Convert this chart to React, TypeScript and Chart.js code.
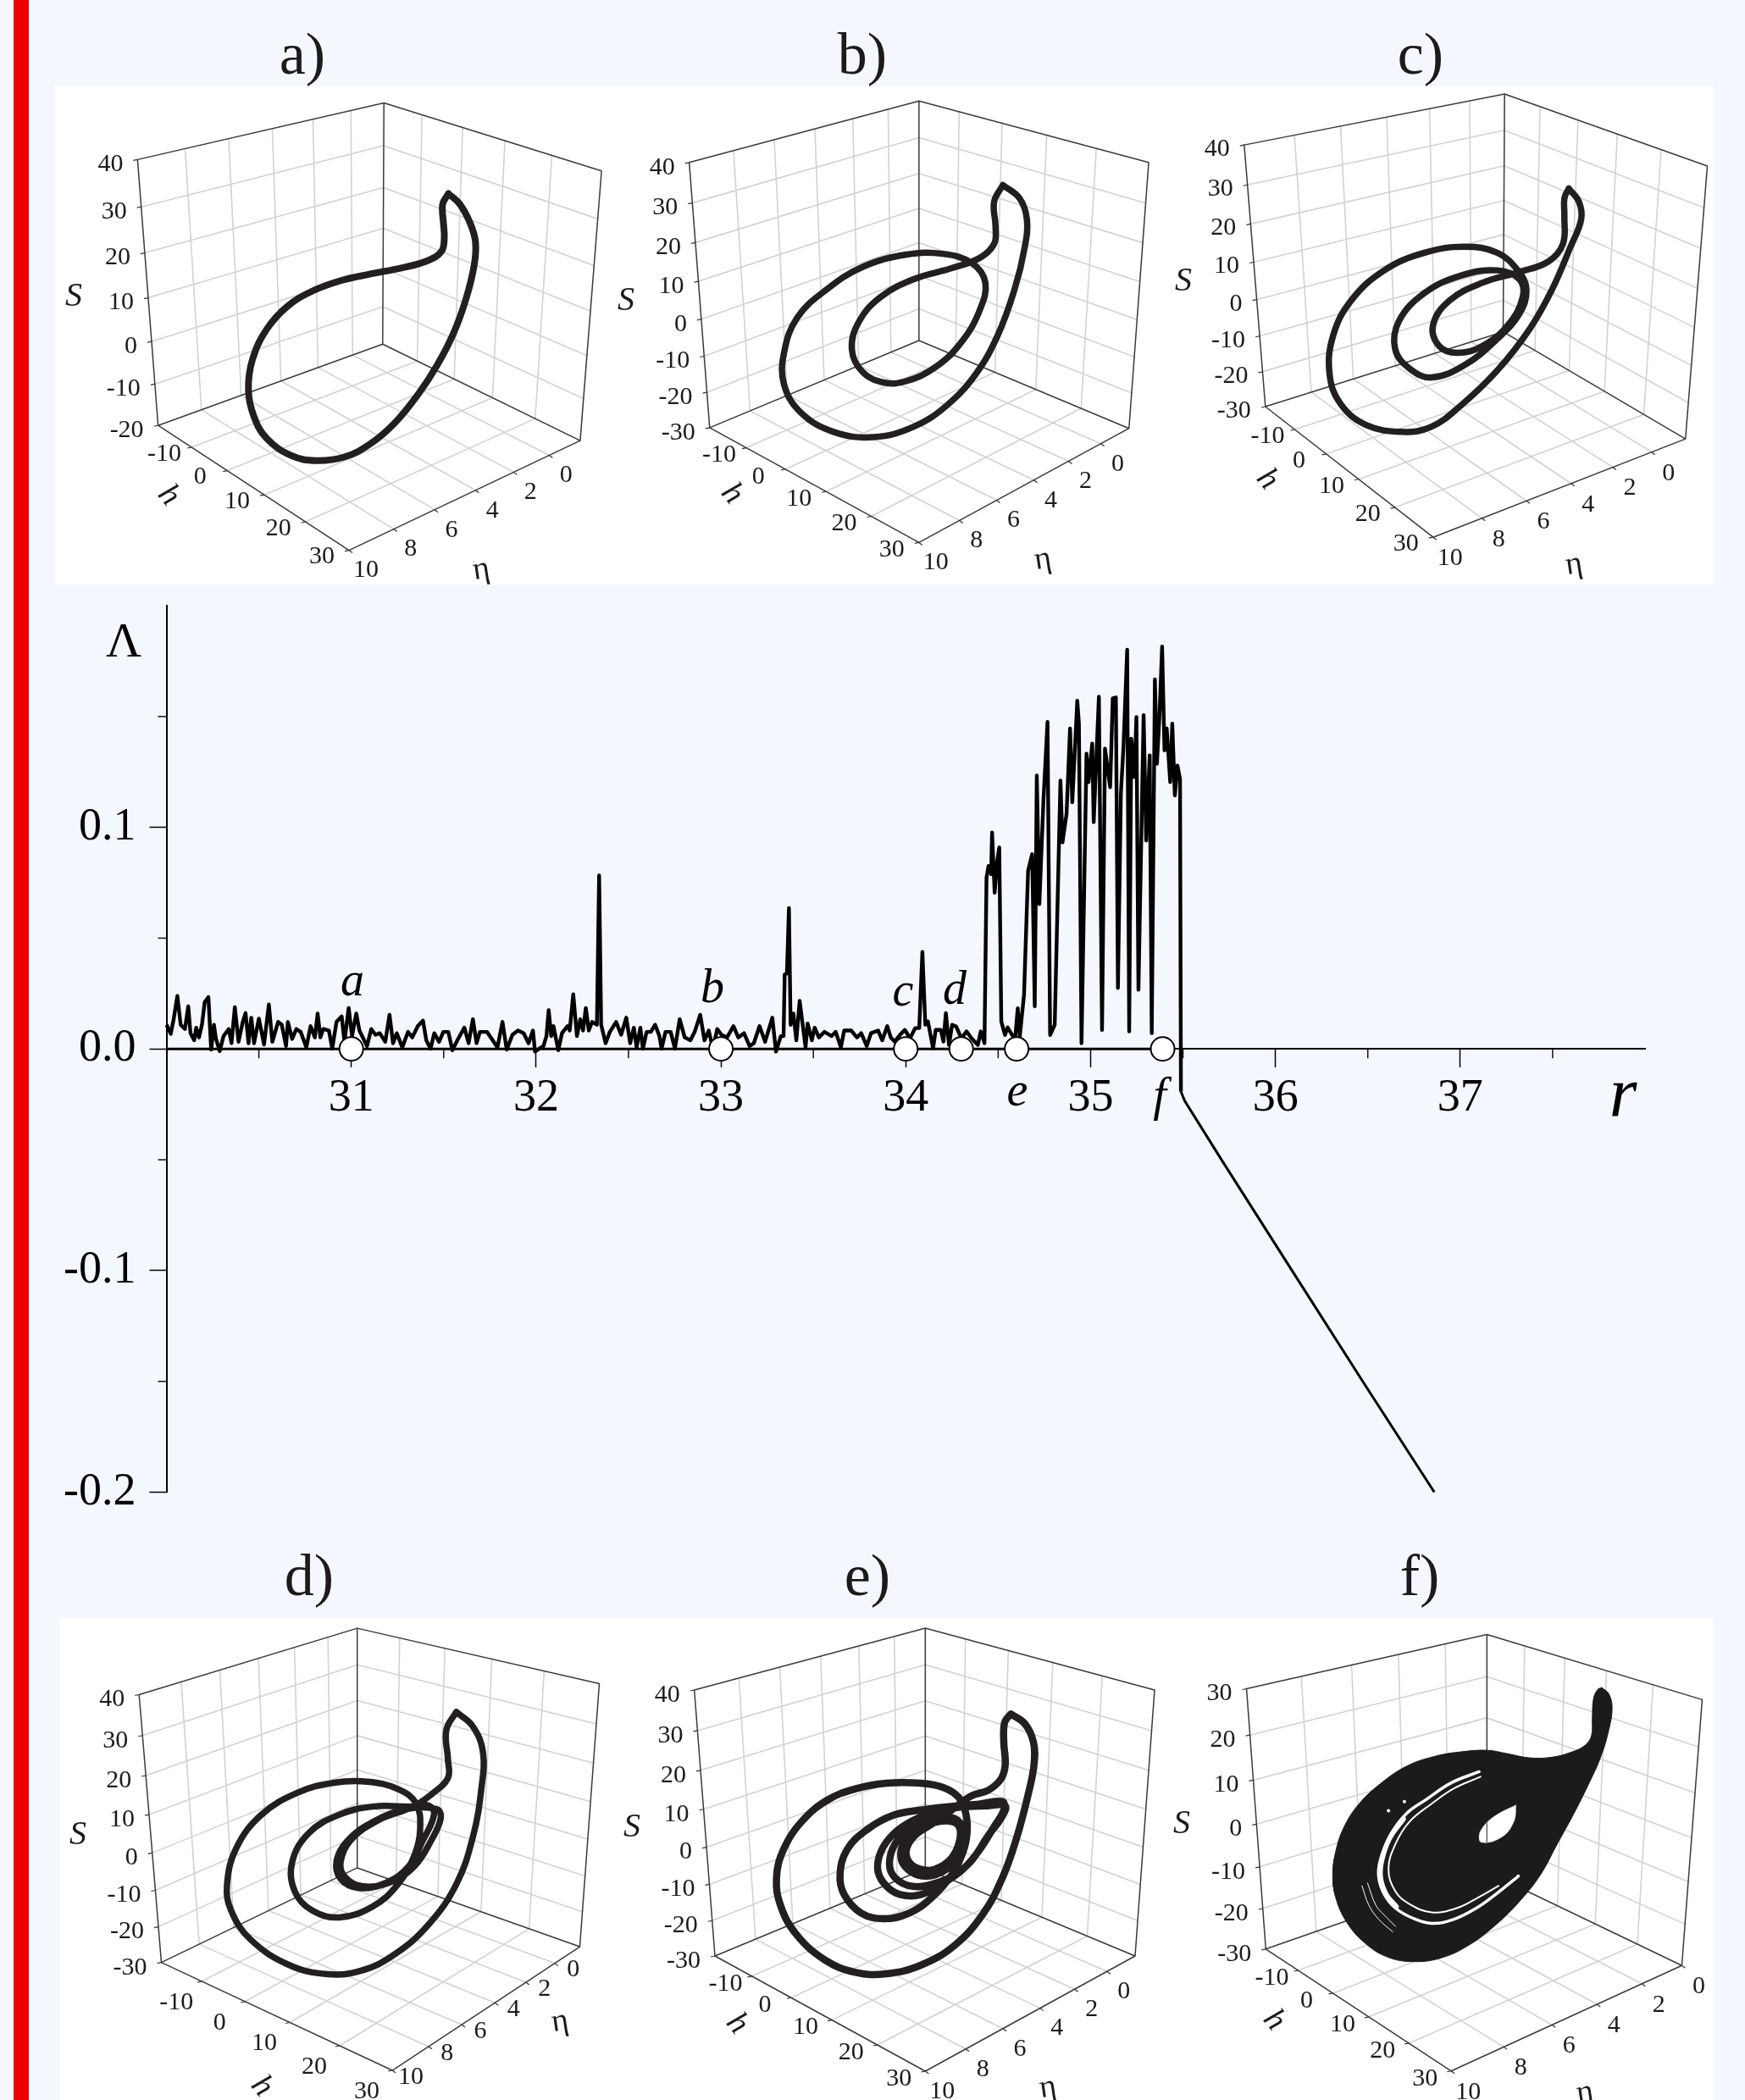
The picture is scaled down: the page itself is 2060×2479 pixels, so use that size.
import React, { useEffect, useRef } from "react";
import { Chart, registerables } from "chart.js";
Chart.register(...registerables);

const SERIF = '"Liberation Serif", "Times New Roman", serif';
const INK = "#231f20";

// ---------- main plot: Lyapunov exponent Λ versus r ----------
const rTicksMajor = [31, 32, 33, 34, 35, 36, 37];
const markerR = [31, 33, 34, 34.3, 34.6, 35.39];

const lowNoise: [number, number][] = [
  [30.001,.0109],[30.023,.0068],[30.039,.0134],[30.059,.0239],[30.077,.0109],[30.1,.009],[30.118,.0192],[30.13,.0071],[30.15,.0039],[30.161,.0096],
  [30.176,.0052],[30.192,.0109],[30.207,.0211],[30.227,.0234],[30.242,-.0003],[30.257,.0109],[30.268,.0045],[30.288,-.001],[30.309,.0058],[30.337,.009],
  [30.352,.0026],[30.37,.0188],[30.39,.0032],[30.413,.0122],[30.428,.0162],[30.444,.0026],[30.459,.0141],[30.474,.0026],[30.5,.0137],[30.528,.002],
  [30.554,.0201],[30.573,.0032],[30.604,.0122],[30.624,.0109],[30.647,.0013],[30.657,.0122],[30.68,.0045],[30.703,.009],[30.726,.0077],[30.757,.0007],
  [30.78,.0103],[30.803,.0052],[30.818,.016],[30.833,.0052],[30.848,.009],[30.879,.0083],[30.897,.0001],[30.92,.0122],[30.948,.0147],[30.963,.0032],
  [30.986,.0185],[31.004,.0058],[31.027,.016],[31.044,.0083],[31.085,.0013],[31.108,.009],[31.131,.0064],[31.154,.0071],[31.184,.0032],[31.207,.0154],
  [31.226,.0026],[31.246,.0071],[31.276,.0007],[31.307,.0077],[31.33,.0052],[31.36,.0103],[31.388,.0128],[31.406,.0039],[31.429,.0001],[31.449,.0071],
  [31.475,.0032],[31.498,.0077],[31.525,.0077],[31.547,-.0006],[31.574,.0039],[31.612,.0096],[31.635,.0026],[31.658,.0134],[31.678,.0026],[31.696,.0077],
  [31.734,.0077],[31.765,.0039],[31.791,.0007],[31.818,.0122],[31.841,-.0003],[31.872,.0064],[31.902,.0083],[31.933,.0071],[31.959,.0026],[31.983,.0083],
  [31.994,-.0012],[32.017,.0001],[32.04,.0013],[32.056,.0058],[32.068,.0175],[32.082,.0058],[32.094,.0103],[32.12,-.0006],[32.14,.0071],[32.17,.0103],
  [32.182,.0083],[32.201,.0247],[32.221,.0058],[32.239,.0134],[32.254,.0083],[32.269,.0185],[32.285,.0083],[32.303,.0122],[32.329,.0109],[32.341,.0783],
  [32.352,.0109],[32.376,.0026],[32.399,.0077],[32.433,.0122],[32.46,.0064],[32.488,.0141],[32.509,.0026],[32.529,.0096],[32.544,.0007],[32.564,.0096],
  [32.578,.0001],[32.598,.0077],[32.621,.0077],[32.644,.0109],[32.667,.0058],[32.679,.0001],[32.7,.0077],[32.728,.0077],[32.751,.0001],[32.777,.0134],
  [32.804,.0052],[32.835,.0039],[32.858,.0077],[32.888,.0154],[32.911,.0039],[32.934,.0083],[32.957,.0001],[32.98,.009],[33.003,.0064],[33.033,.0052],
  [33.068,.0103],[33.094,.0052],[33.125,.0071],[33.155,.0013],[33.178,.0026],[33.209,.0103],[33.239,.0032],[33.278,.0141],[33.298,-.0012],[33.324,.0058],
  [33.339,.0058],[33.345,.0336],[33.357,.034],[33.368,.0636],[33.377,.0109],[33.392,.016],[33.408,.0039],[33.426,.0217],[33.458,.0007],[33.469,.0115],
  [33.492,.0039],[33.507,.0096],[33.53,.0052],[33.56,.0077],[33.599,.0058],[33.621,.0077],[33.649,.0007],[33.667,.0083],[33.705,.0083],[33.736,.0052],
  [33.759,.0071],[33.789,.0013],[33.812,.0071],[33.851,.0083],[33.873,.0039],[33.9,.0103],[33.919,.0052],[33.94,.0033],[33.968,.0063],
  [33.995,.0086],[34.023,.0048],[34.051,.0094],[34.073,.0094],[34.09,.0438],[34.106,.0109],[34.12,.0124],[34.148,.0003],[34.162,.0086],[34.19,.0086],
  [34.204,.0033],[34.217,.0162],[34.234,.0018],[34.251,.0109],[34.273,.0101],[34.301,.0048],[34.329,.0079],[34.356,.0048],[34.39,.0018],[34.406,.0079],[34.426,.0026],
];
const chaoticBand: [number, number][] = [
  [34.437,.0773],[34.448,.0826],[34.462,.0789],[34.467,.0977],[34.481,.0705],[34.495,.0849],[34.506,.0909],[34.517,.0124],[34.537,.0063],[34.551,.0097],
  [34.578,.006],[34.592,.0048],[34.606,.0184],[34.617,.0056],[34.64,.0245],[34.662,.0804],[34.684,.0879],[34.698,.0192],[34.709,.1234],[34.723,.0653],
  [34.745,.1121],[34.767,.1476],[34.781,.0063],[34.806,.0109],[34.837,.1211],[34.848,.0932],[34.87,.106],[34.889,.1446],[34.901,.1113],[34.928,.1571],
  [34.937,.1468],[34.951,.0026],[34.978,.1332],[34.989,.1204],[35.009,.1378],[35.017,.1023],[35.045,.1589],[35.062,.0086],[35.078,.1355],[35.106,.1181],
  [35.12,.1582],[35.137,.1586],[35.148,.0275],[35.164,.1151],[35.178,.1363],[35.198,.1801],[35.209,.0079],[35.22,.14],[35.237,.1227],[35.248,.1498],
  [35.259,.0267],[35.287,.1506],[35.301,.094],[35.32,.1325],[35.331,.0071],[35.348,.1668],[35.359,.1287],[35.373,.1506],[35.387,.1816],[35.4,.1347],
  [35.412,.1446],[35.431,.1204],[35.442,.1468],[35.456,.1144],[35.47,.1279],[35.484,.1219],[35.489,-.0193],
];
const stableTail: [number, number][] = [
  [35.489,-.0193],[35.51,-.0235],[35.71,-.0502],[36.09,-.1],[36.48,-.151],[36.86,-.2],
];
const activeSeries = [...lowNoise, ...chaoticBand];

// ---------- phase portraits, in each panel's projected plane ----------
const orbitA: [number, number][] = [[1092,512],[1120,540],[1145,590],[1158,640],[1155,700],[1135,790],[1105,880],[1065,965],[1020,1040],[960,1120],[900,1175],[840,1208],[770,1218],[710,1205],[650,1160],[618,1100],[605,1030],[615,950],[650,870],[700,810],[760,770],[830,742],[900,725],[980,708],[1040,690],[1075,665],[1082,630],[1080,590],[1078,540],[1092,512]];
const orbitB: [number, number][] = [[562,382],[585,420],[595,480],[592,560],[578,680],[555,810],[525,920],[485,1010],[440,1070],[385,1100],[330,1085],[285,1030],[262,950],[262,860],[280,760],[320,680],[370,615],[430,580],[480,578],[520,605],[538,660],[530,740],[505,830],[470,900],[430,940],[400,945],[370,915],[355,850],[365,770],[395,700],[440,650],[490,620],[530,590],[550,550],[552,500],[550,430],[562,382]];
const orbitC: [number, number][] = [[1338,392],[1352,430],[1355,480],[1340,560],[1315,680],[1285,790],[1240,910],[1190,1010],[1150,1070],[1110,1085],[1060,1065],[1025,1005],[1010,920],[1015,810],[1040,710],[1085,625],[1140,575],[1195,558],[1240,575],[1268,625],[1280,680],[1270,750],[1240,820],[1195,895],[1150,930],[1120,905],[1100,850],[1105,770],[1140,690],[1190,640],[1240,625],[1270,650],[1275,700],[1255,780],[1220,840],[1185,860],[1160,840],[1152,780],[1175,710],[1220,660],[1270,630],[1310,600],[1330,550],[1332,470],[1332,420],[1338,392]];
const orbitD: [number, number][] = [[820,510],[850,550],[868,620],[865,720],[850,850],[820,980],[770,1090],[710,1170],[650,1215],[590,1225],[520,1200],[450,1130],[415,1050],[408,980],[425,880],[470,790],[535,730],[600,703],[660,700],[715,720],[748,760],[755,830],[745,900],[715,980],[670,1040],[610,1070],[560,1050],[530,1000],[525,920],[555,840],[610,790],[670,768],[740,768],[770,765],[780,790],[760,860],[735,930],[695,975],[645,990],[612,965],[605,915],[625,860],[670,810],[730,775],[785,775],[792,800],[775,860],[745,930],[700,975],[650,985],[620,960],[612,920],[630,860],[680,805],[740,770],[775,735],[805,690],[805,640],[802,560],[820,510]];
const orbitE: [number, number][] = [[1000,220],[1050,255],[1080,320],[1082,400],[1060,510],[1020,660],[970,800],[900,930],[800,1040],[680,1110],[560,1140],[450,1135],[340,1090],[240,1000],[185,900],[170,800],[195,700],[260,600],[350,525],[450,485],[560,465],[680,465],[760,480],[815,515],[840,570],[845,640],[830,710],[790,790],[720,870],[640,925],[550,945],[470,925],[410,860],[395,790],[420,700],[490,630],[580,580],[680,560],[780,548],[880,540],[970,530],[975,560],[940,620],[890,700],[830,770],[760,820],[680,860],[610,860],[560,830],[530,780],[535,720],[570,660],[630,610],[720,570],[820,550],[920,545],[980,545],[965,590],[920,650],[860,740],[800,790],[730,820],[650,830],[590,800],[570,750],[590,680],[640,630],[720,590],[800,590],[830,630],[825,700],[790,755],[730,790],[670,790],[625,760],[610,720],[625,670],[680,625],[750,600],[810,610],[820,660],[790,730],[730,770],[680,770],[640,745],[630,700],[660,650],[720,610],[790,560],[860,510],[920,490],[965,450],[980,400],[975,320],[978,250],[1000,220]];
const attractorF: [number, number][] = [[1180,118],[1205,140],[1217,190],[1205,270],[1175,370],[1130,470],[1080,570],[1020,680],[960,790],[890,880],[800,970],[700,1045],[600,1090],[500,1102],[410,1085],[330,1035],[265,960],[225,870],[215,790],[225,710],[255,620],[310,535],[390,460],[480,400],[580,365],[680,348],[770,343],[840,355],[920,370],[1000,368],[1070,350],[1120,325],[1143,290],[1146,230],[1150,160],[1165,125],[1180,118]];
const holeF: [number, number][] = [[872,540],[868,590],[840,640],[790,670],[745,672],[742,640],[770,600],[820,565],[872,540]];
const gapF1: [number, number][] = [[740,420],[640,460],[550,520],[480,570],[420,650],[385,740],[380,800],[400,860],[440,910],[500,945],[570,965],[650,950],[730,910],[800,860],[875,800]];
const gapF1wide: [number, number][] = [[470,590],[420,660],[392,740],[388,800],[408,860],[445,905]];
const gapF2: [number, number][] = [[745,438],[650,480],[570,535],[490,600],[440,680],[415,770],[440,850],[490,895],[570,925],[660,910],[740,870],[810,830]];
const gapF3: [number, number][] = [[320,830],[345,900],[380,950],[430,995]];
const gapF4: [number, number][] = [[340,820],[370,900],[400,935],[440,975]];
const dotsF: [number, number][] = [[415,560],[472,527],[880,795]];

const sLabels40to30 = ["40", "30", "20", "10", "0", "-10", "-20", "-30"];
const sLabels40to20 = ["40", "30", "20", "10", "0", "-10", "-20"];
const sLabels30to30 = ["30", "20", "10", "0", "-10", "-20", "-30"];
const hLabels = ["-10", "0", "10", "20", "30"];
const etaLabels = ["10", "8", "6", "4", "2", "0"];

type Pt = [number, number];
const hFrac = [0.175, 0.362, 0.556, 0.772];
const etaFrac6 = [0.193, 0.37, 0.547, 0.712, 0.866];
const etaFrac5 = [0.228, 0.437, 0.632, 0.827];

const panels: any[] = [
  { key: "a", ox: 0, oy: 0, sx: 2.063, sy: 2.24, rect: [65, 102, 722, 690], T: [935, 272], O: [932, 910], LT: [335, 422], LB: [385, 1125], RT: [1465, 452], RB: [1413, 1165], F: [850, 1455], sL: sLabels40to20, eta: etaFrac6, orbit: orbitA, lw: 8, sOff: [-17, 6], hOff: [-32, 8], etaOff: [20, 24], S: [87, 350], h: [199, 585], n: [568, 673] },
  { key: "b", ox: 700, oy: 60, sx: 1.1615, sy: 2.412, rect: [722, 102, 1378, 690], T: [447, 143], O: [447, 825], LT: [132, 318], LB: [160, 1073], RT: [762, 318], RB: [735, 1075], F: [447, 1400], sL: sLabels40to30, eta: etaFrac6, orbit: orbitB, lw: 7.5, sOff: [-17, 6], hOff: [-32, 9], etaOff: [20, 24], S: [739, 355], h: [864, 583], n: [1231, 661] },
  { key: "c", ox: 700, oy: 60, sx: 1.1615, sy: 2.412, rect: [1378, 102, 2023, 690], T: [1250, 123], O: [1248, 800], LT: [893, 268], LB: [922, 1013], RT: [1528, 328], RB: [1498, 1105], F: [1152, 1385], sL: sLabels40to30, eta: etaFrac6, orbit: orbitC, lw: 7.5, sOff: [-17, 5], hOff: [-32, 8], etaOff: [20, 25], S: [1397, 332], h: [1496, 566], n: [1858, 667] },
  { key: "d", ox: 0, oy: 1800, sx: 1.5223, sy: 2.309, rect: [71, 1910, 725, 2479], T: [642, 282], O: [642, 935], LT: [250, 463], LB: [290, 1193], RT: [1077, 433], RB: [1042, 1150], F: [705, 1487], sL: sLabels40to30, eta: etaFrac6, orbit: orbitD, lw: 7.5, sOff: [-17, 6], hOff: [-30, 25], etaOff: [22, 8], S: [92, 2166], h: [309, 2463], n: [661, 2387] },
  { key: "e", ox: 860, oy: 1950, sx: 3, sy: 3, rect: [725, 1910, 1380, 2479], T: [697, -84], O: [697, 768], LT: [-121, 135], LB: [-48, 1077], RT: [1509, 135], RB: [1440, 1077], F: [697, 1485], sL: sLabels40to30, eta: etaFrac6, orbit: orbitE, lw: 8.5, sOff: [-17, 6], hOff: [-31, 9], etaOff: [20, 24], S: [746, 2157], h: [870, 2389], n: [1237, 2465] },
  { key: "f", ox: 1500, oy: 1950, sx: 3, sy: 3, rect: [1380, 1910, 2023, 2479], T: [768, -73], O: [768, 780], LT: [-94, 122], LB: [-25, 1057], RT: [1540, 161], RB: [1467, 1116], F: [640, 1495], sL: sLabels30to30, eta: etaFrac5, orbit: null, lw: 0, sOff: [-17, 6], hOff: [-31, 9], etaOff: [20, 25], S: [1395, 2153], h: [1504, 2385], n: [1871, 2471] },
];
const titles = [
  { t: "a)", x: 357, y: 29 }, { t: "b)", x: 1018, y: 29 }, { t: "c)", x: 1677, y: 29 },
  { t: "d)", x: 365, y: 1825 }, { t: "e)", x: 1024, y: 1825 }, { t: "f)", x: 1676, y: 1825 },
];

const lerp = (a: Pt, b: Pt, t: number): Pt => [a[0] + (b[0] - a[0]) * t, a[1] + (b[1] - a[1]) * t];
const seg = (list: any[], a: Pt, b: Pt) => { list.push({ x: a[0], y: a[1] }, { x: b[0], y: b[1] }, { x: a[0], y: null }); };

function buildPanelChart(canvas: HTMLCanvasElement, p: any) {
  const { T, O, LT, LB, RT, RB, F, eta, rect, ox, oy, sx, sy } = p;
  const n = p.sL.length - 1;
  const warp = (t: number) => t + 0.08 * t * (1 - t);
  const grid: any[] = [];
  const box: any[] = [];
  for (let i = 1; i < n; i++) {
    const t = warp(i / n);
    const mid = lerp(T, O, t);
    seg(grid, lerp(LT, LB, t), mid);
    seg(grid, mid, lerp(RT, RB, t));
  }
  eta.forEach((f: number) => {
    seg(grid, lerp(LT, T, f), lerp(LB, O, f));
    seg(grid, lerp(LB, O, f), lerp(F, RB, f));
  });
  hFrac.forEach((f) => {
    seg(grid, lerp(T, RT, f), lerp(O, RB, f));
    seg(grid, lerp(O, RB, f), lerp(LB, F, f));
  });
  [[LT, T], [T, RT], [LT, LB], [T, O], [RT, RB], [LB, O], [O, RB], [LB, F], [F, RB]].forEach(([a, b]) => seg(box, a as Pt, b as Pt));

  const toXY = (list: Pt[]) => list.map(([x, y]) => ({ x, y }));
  const line = (data: any[], color: string, w: number, tension = 0, extra: any = {}) => ({
    data, borderColor: color, borderWidth: w, pointRadius: 0, showLine: true, tension,
    borderJoinStyle: "round", borderCapStyle: "round", spanGaps: false, ...extra,
  });
  const datasets: any[] = [];
  if (p.orbit) datasets.push(line(toXY(p.orbit), INK, p.lw, 0.4));
  else {
    datasets.push({ data: toXY(dotsF), showLine: false, pointRadius: 2, pointBackgroundColor: "#fff", pointBorderWidth: 0 });
    datasets.push(line(toXY(gapF3), "#fff", 1, 0.4));
    datasets.push(line(toXY(gapF4), "#fff", 1, 0.4));
    datasets.push(line(toXY(gapF2), "#fff", 2, 0.4));
    datasets.push(line(toXY(gapF1wide), "#fff", 5, 0.4));
    datasets.push(line(toXY(gapF1), "#fff", 3.5, 0.4));
    datasets.push(line([{ x: 768, y: 605 }, { x: 768, y: 672 }], "#666", 1.5));
    datasets.push(line(toXY(holeF), "#fff", 0.5, 0.3, { fill: "shape", backgroundColor: "#fff" }));
    datasets.push(line(toXY(attractorF), "#1c1a1a", 1, 0.4, { fill: "shape", backgroundColor: "#1c1a1a" }));
  }
  datasets.push(line(box, "#3a3a3a", 1.5));
  datasets.push(line(grid, "#d2d2d2", 1.6));

  const labelPlugin = {
    id: "panelText",
    afterDraw(chart: any) {
      const c = chart.ctx;
      const X = (u: number) => chart.scales.x.getPixelForValue(u);
      const Y = (v: number) => chart.scales.y.getPixelForValue(v);
      c.save();
      c.fillStyle = "#1c1a1a";
      c.strokeStyle = "#333";
      c.lineWidth = 1.2;
      c.textBaseline = "middle";
      c.font = `30px ${SERIF}`;
      const tickAt = (pt: Pt, dx: number, dy: number) => {
        c.beginPath(); c.moveTo(X(pt[0]), Y(pt[1])); c.lineTo(X(pt[0]) + dx, Y(pt[1]) + dy); c.stroke();
      };
      p.sL.forEach((s: string, i: number) => {
        const pt = lerp(LT, LB, warp(i / n));
        tickAt(pt, -5, 1);
        c.textAlign = "right";
        c.fillText(s, X(pt[0]) + p.sOff[0], Y(pt[1]) + p.sOff[1]);
      });
      c.textAlign = "center";
      hLabels.forEach((s, i) => {
        const pt = i < 4 ? lerp(LB, F, hFrac[i]) : F;
        tickAt(pt, -5, 1);
        c.fillText(s, X(pt[0]) + p.hOff[0], Y(pt[1]) + p.hOff[1]);
      });
      etaLabels.forEach((s, i) => {
        const pt = i === 0 ? F : i - 1 < eta.length ? lerp(F, RB, eta[i - 1]) : RB;
        tickAt(pt, 4, 3);
        c.fillText(s, X(pt[0]) + p.etaOff[0], Y(pt[1]) + p.etaOff[1]);
      });
      const page = (q: number[]) => [q[0] - rect[0], q[1] - rect[1]];
      const [sxp, syp] = page(p.S);
      c.font = `italic 40px ${SERIF}`;
      c.fillText("S", sxp, syp);
      const [hx, hy] = page(p.h);
      c.save(); c.translate(hx, hy); c.rotate(0.87); c.font = `italic 38px ${SERIF}`; c.fillText("h", 0, 0); c.restore();
      const [nx, ny] = page(p.n);
      c.save(); c.translate(nx, ny); c.rotate(-0.15); c.font = `38px ${SERIF}`; c.fillText("η", 0, 0); c.restore();
      c.restore();
    },
  };

  return new Chart(canvas, {
    type: "scatter",
    data: { datasets },
    plugins: [labelPlugin],
    options: {
      animation: false, responsive: false, events: [],
      layout: { padding: 0 },
      plugins: { legend: { display: false }, tooltip: { enabled: false }, title: { display: false } },
      scales: {
        x: { type: "linear", display: false, min: (rect[0] - ox) * sx, max: (rect[2] - ox) * sx },
        y: { type: "linear", display: false, reverse: true, min: (rect[1] - oy) * sy, max: (rect[3] - oy) * sy },
      },
    } as any,
  });
}

function buildMainChart(canvas: HTMLCanvasElement) {
  const tag = [
    { t: "a", x: 416, y: 1160 }, { t: "b", x: 841, y: 1168 }, { t: "c", x: 1066, y: 1172 },
    { t: "d", x: 1127, y: 1170 }, { t: "e", x: 1201, y: 1290 }, { t: "f", x: 1369, y: 1296 },
  ];
  const originX = 60, originY = 690;
  const minorPlugin = {
    id: "mainExtras",
    afterDatasetsDraw(chart: any) {
      const c = chart.ctx, x = chart.scales.x, y = chart.scales.y;
      c.save();
      c.strokeStyle = "#111"; c.lineWidth = 1.5;
      [30.5, 31.5, 32.5, 33.5, 34.5, 35.5, 36.5, 37.5].forEach((v) => {
        c.beginPath(); c.moveTo(x.getPixelForValue(v), y.getPixelForValue(0)); c.lineTo(x.getPixelForValue(v), y.getPixelForValue(0) + 11); c.stroke();
      });
      [0.15, 0.05, -0.05, -0.15].forEach((v) => {
        c.beginPath(); c.moveTo(x.left, y.getPixelForValue(v)); c.lineTo(x.left - 10, y.getPixelForValue(v)); c.stroke();
      });
      c.fillStyle = "#000"; c.textAlign = "center"; c.textBaseline = "middle";
      c.font = `italic 56px ${SERIF}`;
      tag.forEach((l) => c.fillText(l.t, l.x - originX, l.y - originY));
      c.font = `italic 84px ${SERIF}`;
      c.fillText("r", 1916 - originX, 1296 - originY);
      c.font = `58px ${SERIF}`;
      c.fillText("Λ", 146 - originX, 760 - originY);
      c.restore();
    },
  };
  const near = (v: number, step: number) => Math.abs(v / step - Math.round(v / step)) < 1e-6;
  return new Chart(canvas, {
    type: "scatter",
    data: {
      datasets: [
        { data: markerR.map((r) => ({ x: r, y: 0 })), showLine: false, pointRadius: 14, pointBackgroundColor: "#fff", pointBorderColor: "#000", pointBorderWidth: 2 },
        { data: activeSeries.map(([x, y]) => ({ x, y })), showLine: true, borderColor: "#000", borderWidth: 4.4, pointRadius: 0, tension: 0, borderJoinStyle: "round", clip: false },
        { data: stableTail.map(([x, y]) => ({ x, y })), showLine: true, borderColor: "#000", borderWidth: 3, pointRadius: 0, tension: 0, clip: false },
        { data: [{ x: 30, y: 0 }, { x: 35.45, y: 0 }], showLine: true, borderColor: "#000", borderWidth: 3, pointRadius: 0 },
      ],
    },
    plugins: [minorPlugin],
    options: {
      animation: false, responsive: false, events: [],
      layout: { padding: { top: 25, bottom: 28.5, left: 0, right: 58 } },
      plugins: { legend: { display: false }, tooltip: { enabled: false }, title: { display: false } },
      scales: {
        x: {
          type: "linear", min: 30, max: 38, position: { y: 0 },
          border: { display: true, color: "#000", width: 2 },
          grid: {
            drawOnChartArea: false, drawTicks: true, tickLength: 21, tickWidth: 1.5,
            tickColor: (ctx: any) => (rTicksMajor.includes(ctx.tick?.value) ? "#000" : "transparent"),
          },
          ticks: {
            stepSize: 1, autoSkip: false, maxRotation: 0, color: "#000", padding: 5,
            font: { family: SERIF, size: 54 },
            callback: (v: any) => (rTicksMajor.includes(v) ? String(v) : ""),
          },
        },
        y: {
          type: "linear", min: -0.2, max: 0.2, position: "left",
          afterFit: (s: any) => { s.width = 136.5; s.paddingTop = 0; s.paddingBottom = 0; },
          border: { display: true, color: "#000", width: 2 },
          grid: {
            drawOnChartArea: false, drawTicks: true, tickLength: 20, tickWidth: 1.5,
            tickColor: (ctx: any) => (near(ctx.tick?.value, 0.1) && ctx.tick?.value < 0.15 ? "#000" : "transparent"),
          },
          ticks: {
            stepSize: 0.1, autoSkip: false, color: "#000", padding: 16,
            font: { family: SERIF, size: 54 },
            callback: (v: any) => (v > 0.15 ? "" : Number(v).toFixed(1)),
          },
        },
      },
    } as any,
  });
}

export default function App() {
  const mainRef = useRef<HTMLCanvasElement>(null);
  const panelRefs = useRef<(HTMLCanvasElement | null)[]>([]);
  useEffect(() => {
    document.body.style.margin = "0";
    document.body.style.background = "#f5f7ff";
    const charts = panels.map((p, i) => buildPanelChart(panelRefs.current[i]!, p));
    charts.push(buildMainChart(mainRef.current!));
    return () => charts.forEach((c) => c.destroy());
  }, []);
  const abs = (l: number, t: number, w: number, h: number): React.CSSProperties => ({ position: "absolute", left: l, top: t, width: w, height: h });
  return (
    <div style={{ position: "absolute", left: 0, top: 0, width: 2060, height: 2479, overflow: "hidden", background: "#f5f7ff" }}>
      <div style={{ ...abs(16, 0, 18, 2479), background: "#ee0000" }} />
      {titles.map((t) => (
        <div key={t.t} style={{ position: "absolute", left: t.x, top: t.y, transform: "translateX(-50%)", font: `70px/70px ${SERIF}`, color: "#1c1a1a" }}>{t.t}</div>
      ))}
      <div style={{ ...abs(65, 102, 1958, 588), background: "#fff" }} />
      <div style={{ ...abs(71, 1910, 1952, 569), background: "#fff" }} />
      {panels.map((p, i) => (
        <canvas key={p.key} ref={(el) => { panelRefs.current[i] = el; }} width={p.rect[2] - p.rect[0]} height={p.rect[3] - p.rect[1]}
          style={{ position: "absolute", left: p.rect[0], top: p.rect[1], display: "block" }} />
      ))}
      <canvas ref={mainRef} width={1940} height={1100} style={{ position: "absolute", left: 60, top: 690, display: "block" }} />
    </div>
  );
}
